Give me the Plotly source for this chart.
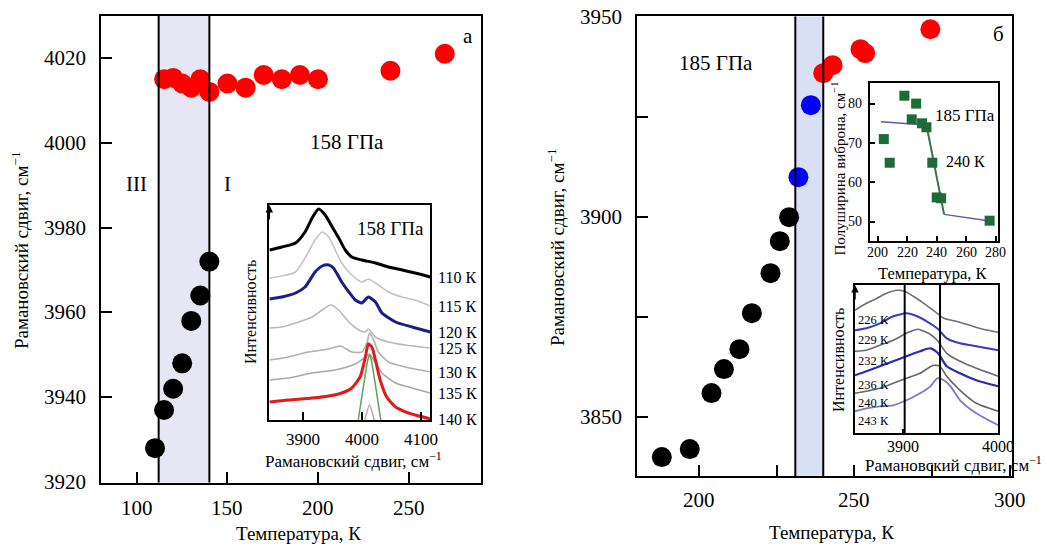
import plotly.graph_objects as go

W, H = 1047, 546
SERIF = "Liberation Serif"

# ---------------- panel (а): 158 GPa ----------------
temp_a_III = [110, 115, 120, 125, 130, 135, 140]
shift_a_III = [3928, 3937, 3942, 3948, 3958, 3964, 3972]
temp_a_I = [115, 120, 125, 130, 135, 140, 150, 160, 170, 180, 190, 200, 240, 270]
shift_a_I = [4015, 4015.3, 4014, 4013, 4015, 4012, 4014, 4013, 4016, 4015, 4016, 4015, 4017, 4021]
band_a = [112, 140]
ticks_a_x = [100, 150, 200, 250]
ticks_a_y = [3920, 3940, 3960, 3980, 4000, 4020]

# inset (а): Raman spectra, arbitrary intensity units
wn_110 = [3844, 3865, 3888, 3904, 3916, 3927, 3938, 3950, 3961, 3972, 3983, 4000, 4023, 4045, 4068, 4090, 4116]
int_110 = [170, 173, 177, 188, 202, 211, 205, 193, 182, 170, 163, 160, 157, 153, 150, 147, 143]
wn_115 = [3844, 3865, 3888, 3904, 3921, 3933, 3944, 3955, 3966, 3983, 4000, 4011, 4023, 4045, 4068, 4090, 4116]
int_115 = [142, 144, 148, 162, 180, 188, 183, 170, 157, 145, 138, 141, 137, 128, 123, 120, 114]
wn_120 = [3844, 3865, 3888, 3904, 3921, 3933, 3944, 3952, 3966, 3978, 3989, 4000, 4011, 4023, 4034, 4057, 4085, 4116]
int_120 = [121, 123, 127, 133, 148, 154, 155, 152, 138, 128, 120, 117, 123, 118, 107, 98, 93, 88]
wn_125 = [3844, 3865, 3888, 3916, 3933, 3947, 3961, 3978, 3995, 4006, 4011, 4023, 4045, 4073, 4116]
int_125 = [92, 93, 97, 103, 110, 115, 110, 98, 90, 88, 91, 83, 78, 75, 72]
wn_130 = [3844, 3876, 3910, 3944, 3964, 3983, 4000, 4009, 4013, 4020, 4028, 4045, 4073, 4116]
int_130 = [60, 63, 68, 71, 74, 68, 68, 78, 87, 80, 68, 58, 53, 48]
wn_135 = [3844, 3876, 3916, 3955, 3989, 4006, 4013, 4020, 4034, 4057, 4085, 4116]
int_135 = [40, 42, 47, 50, 56, 63, 66, 60, 47, 37, 32, 27]
wn_140 = [3844, 3876, 3916, 3944, 3966, 3983, 3997, 4006, 4011, 4017, 4023, 4031, 4042, 4057, 4079, 4116]
int_140 = [18, 20, 22, 24, 27, 32, 43, 63, 76, 73, 60, 40, 23, 13, 7, 1]
wn_fit = [3994, 4010, 4013, 4016, 4032]
int_fit = [0, 60, 65, 60, 0]
wn_fit2 = [4005, 4013, 4021]
int_fit2 = [0, 15, 0]
labels_a = ["110 К", "115 К", "120 К", "125 К", "130 К", "135 К", "140 К"]
ticks_a_inset = [3900, 4000, 4100]

# ---------------- panel (б): 185 GPa ----------------
temp_b_black = [188, 197, 204, 208, 213, 217, 223, 226, 229]
shift_b_black = [3840, 3842, 3856, 3862, 3867, 3876, 3886, 3894, 3900]
temp_b_blue = [232, 236]
shift_b_blue = [3910, 3928]
temp_b_red = [240, 243, 252, 253.5, 274.5]
shift_b_red = [3936, 3938, 3942, 3941, 3947]
band_b = [231, 240]
ticks_b_x = [200, 225, 250, 275, 300]
labeled_b_x = [200, 250, 300]
ticks_b_y = [3850, 3875, 3900, 3925, 3950]
labeled_b_y = [3850, 3900, 3950]

# inset (б, top): vibron half-width
fwhm_temp = [204, 208, 218, 223, 226, 230, 233, 237, 240, 243, 276]
fwhm_val = [71, 65, 82, 76, 80, 75, 74, 65, 56.2, 56, 50.3]
fit_low_t = [202, 233]
fit_low_w = [75.4, 74.6]
fit_drop_t = [233, 245]
fit_drop_w = [74.6, 51.9]
fit_high_t = [245, 275]
fit_high_w = [51.9, 50.3]
ticks_fwhm_x = [200, 220, 240, 260, 280]
ticks_fwhm_y = [50, 60, 70, 80]

# inset (б, bottom): Raman spectra
wn_226 = [3850, 3862, 3873, 3883, 3894, 3902, 3911, 3922, 3932, 3943, 3956, 3970, 3984, 4000]
int_226 = [123, 130, 135, 140, 143, 142, 137, 130, 123, 115, 112, 108, 104, 101]
wn_229 = [3850, 3862, 3876, 3890, 3904, 3915, 3925, 3936, 3946, 3960, 3977, 4000]
int_229 = [103, 105, 110, 117, 120, 117, 112, 105, 95, 90, 87, 83]
wn_232 = [3850, 3862, 3876, 3890, 3906, 3916, 3927, 3936, 3946, 3960, 3977, 4000]
int_232 = [82, 83, 88, 93, 101, 104, 100, 93, 80, 72, 65, 57]
wn_236 = [3850, 3862, 3876, 3890, 3904, 3918, 3929, 3937, 3946, 3960, 3977, 4000]
int_236 = [58, 62, 67, 72, 77, 82, 85, 80, 67, 60, 53, 47]
wn_240 = [3850, 3862, 3876, 3890, 3904, 3918, 3932, 3939, 3946, 3960, 3977, 4000]
int_240 = [40, 42, 45, 50, 55, 60, 68, 67, 57, 43, 30, 22]
wn_243 = [3850, 3862, 3876, 3890, 3904, 3918, 3929, 3936, 3943, 3950, 3960, 3977, 4000]
int_243 = [22, 25, 27, 28, 33, 40, 47, 55, 53, 47, 33, 20, 8]
labels_b = ["226 К", "229 К", "232 К", "236 К", "240 К", "243 К"]
marker_lines_b = [3902, 3939]
ticks_b_inset = [3900, 4000]


def px(p):
    return p / W


def py(p):
    return 1 - p / H


def axis_style(lw=2, tl=11, **kw):
    base = dict(showline=True, mirror=True, linecolor="black", linewidth=lw,
                ticks="inside", tickcolor="black", tickwidth=lw, ticklen=tl,
                showgrid=False, zeroline=False, showticklabels=False, tickmode="array")
    base.update(kw)
    return base


fig = go.Figure()

# main panel (а)
fig.add_trace(go.Scatter(x=temp_a_III, y=shift_a_III, mode="markers",
                         marker=dict(color="black", size=20), cliponaxis=False,
                         xaxis="x", yaxis="y"))
fig.add_trace(go.Scatter(x=temp_a_I, y=shift_a_I, mode="markers",
                         marker=dict(color="#ff0000", size=20), cliponaxis=False,
                         xaxis="x", yaxis="y"))

# inset (а) spectra
spectra_a = [
    (wn_110, int_110, "#000000", 3),
    (wn_115, int_115, "#c4c4c4", 1.6),
    (wn_120, int_120, "#1c1c8c", 3),
    (wn_125, int_125, "#b8b8b8", 1.6),
    (wn_130, int_130, "#b0b0b0", 1.6),
    (wn_135, int_135, "#a8a8a8", 1.6),
    (wn_140, int_140, "#e31a1a", 3),
]
for wn, inten, col, lw in spectra_a:
    fig.add_trace(go.Scatter(x=wn, y=inten, mode="lines",
                             line=dict(color=col, width=lw, shape="spline", smoothing=0.6),
                             xaxis="x2", yaxis="y2"))
fig.add_trace(go.Scatter(x=wn_fit, y=int_fit, mode="lines",
                         line=dict(color="#5aa85a", width=1.5, shape="spline", smoothing=0.4),
                         xaxis="x2", yaxis="y2"))
fig.add_trace(go.Scatter(x=wn_fit2, y=int_fit2, mode="lines",
                         line=dict(color="#c8a0a8", width=1.5, shape="spline", smoothing=0.6),
                         xaxis="x2", yaxis="y2"))

# main panel (б)
fig.add_trace(go.Scatter(x=temp_b_black, y=shift_b_black, mode="markers",
                         marker=dict(color="black", size=20), cliponaxis=False,
                         xaxis="x3", yaxis="y3"))
fig.add_trace(go.Scatter(x=temp_b_blue, y=shift_b_blue, mode="markers",
                         marker=dict(color="#0000ff", size=20), cliponaxis=False,
                         xaxis="x3", yaxis="y3"))
fig.add_trace(go.Scatter(x=temp_b_red, y=shift_b_red, mode="markers",
                         marker=dict(color="#ff0000", size=20), cliponaxis=False,
                         xaxis="x3", yaxis="y3"))

# inset (б) half-width
fig.add_trace(go.Scatter(x=fit_low_t, y=fit_low_w, mode="lines",
                         line=dict(color="#5c5cb4", width=1.5), xaxis="x4", yaxis="y4"))
fig.add_trace(go.Scatter(x=fit_high_t, y=fit_high_w, mode="lines",
                         line=dict(color="#5c5cb4", width=1.5), xaxis="x4", yaxis="y4"))
fig.add_trace(go.Scatter(x=fit_drop_t, y=fit_drop_w, mode="lines",
                         line=dict(color="#3d6e4e", width=2), xaxis="x4", yaxis="y4"))
fig.add_trace(go.Scatter(x=fwhm_temp, y=fwhm_val, mode="markers",
                         marker=dict(color="#1d6b38", size=10, symbol="square"),
                         cliponaxis=False, xaxis="x4", yaxis="y4"))

# inset (б) spectra
spectra_b = [
    (wn_226, int_226, "#707070", 1.6),
    (wn_229, int_229, "#3c3cc0", 2),
    (wn_232, int_232, "#6a6a6a", 1.6),
    (wn_236, int_236, "#2a2ab8", 2.2),
    (wn_240, int_240, "#666666", 1.6),
    (wn_243, int_243, "#7a7ad0", 1.8),
]
for wn, inten, col, lw in spectra_b:
    fig.add_trace(go.Scatter(x=wn, y=inten, mode="lines",
                             line=dict(color=col, width=lw, shape="spline", smoothing=0.6),
                             xaxis="x5", yaxis="y5"))

shapes = []
# coexistence bands with boundary lines
for xr, yr, band, col in [("x", "y domain", band_a, "#e6e6f4"),
                          ("x3", "y3 domain", band_b, "#d8e1f4")]:
    shapes.append(dict(type="rect", xref=xr, yref=yr, x0=band[0], x1=band[1], y0=0, y1=1,
                       fillcolor=col, line=dict(width=0), layer="below"))
    for b in band:
        shapes.append(dict(type="line", xref=xr, yref=yr, x0=b, x1=b, y0=0, y1=1,
                           line=dict(color="black", width=2)))
for b in marker_lines_b:
    shapes.append(dict(type="line", xref="x5", yref="y5 domain", x0=b, x1=b, y0=0, y1=1,
                       line=dict(color="black", width=2)))

ann = []


def text(x, y, s, size, xref="paper", yref="paper", angle=0, xanchor="center", **kw):
    ann.append(dict(x=x, y=y, xref=xref, yref=yref, text=s, showarrow=False,
                    textangle=angle, xanchor=xanchor, yanchor="middle",
                    font=dict(family=SERIF, size=size, color="black"), **kw))


def xtick_labels(xa, ya, vals, size, gap):
    for v in vals:
        text(v, 0, str(v), size, xref=xa, yref=ya + " domain", yshift=-gap)


def ytick_labels(xa, ya, vals, size, gap):
    for v in vals:
        text(0, v, str(v), size, xref=xa + " domain", yref=ya, xanchor="right", xshift=-gap)


xtick_labels("x", "y", ticks_a_x, 21, 25.5)
ytick_labels("x", "y", ticks_a_y, 21, 13)
xtick_labels("x2", "y2", ticks_a_inset, 17, 19.5)
xtick_labels("x3", "y3", labeled_b_x, 21, 24)
ytick_labels("x3", "y3", labeled_b_y, 21, 13)
xtick_labels("x4", "y4", ticks_fwhm_x, 14, 12)
ytick_labels("x4", "y4", ticks_fwhm_y, 14, 6)
xtick_labels("x5", "y5", ticks_b_inset, 16, 13.5)

raman_title = "Рамановский сдвиг, см<sup>−1</sup>"

# panel (а) texts
text(px(20), py(250), raman_title, 19, angle=-90)
text(px(298), py(533), "Температура, К", 19)
text(100, 3990.4, "III", 21, xref="x", yref="y")
text(150, 3990.4, "I", 21, xref="x", yref="y")
text(216, 4000.2, "158 ГПа", 21, xref="x", yref="y")
text(282.6, 4025.1, "а", 21, xref="x", yref="y")
# inset (а) texts
text(4048, 191.7, "158 ГПа", 19, xref="x2", yref="y2")
text(px(250), py(312), "Интенсивность", 16, angle=-90)
text(px(353), py(460), raman_title, 17)
curves_a = [int_110, int_115, int_120, int_125, int_130, int_135, int_140]
for lab, inten in zip(labels_a, curves_a):
    text(1, inten[-1], lab, 16, xref="x2 domain", yref="y2", xanchor="left", xshift=6)

# panel (б) texts
text(px(556), py(247), raman_title, 19, angle=-90)
text(px(831), py(532), "Температура, К", 19)
text(205.6, 3938.5, "185 ГПа", 21, xref="x3", yref="y3")
text(296.3, 3945.9, "б", 21, xref="x3", yref="y3")
# inset (б, top) texts
text(259.4, 77.1, "185 ГПа", 17, xref="x4", yref="y4")
text(259.4, 65.4, "240 К", 16, xref="x4", yref="y4")
text(px(838.5), py(169), "Полуширина виброна, см<sup>−1</sup>", 15, angle=-90)
text(px(933), py(273), "Температура, К", 16.5)
# inset (б, bottom) texts
text(px(838), py(360), "Интенсивность", 16, angle=-90)
text(px(863), py(464), raman_title, 17, xanchor="left")
curves_b = [int_226, int_229, int_232, int_236, int_240, int_243]
for lab, inten in zip(labels_b, curves_b):
    text(0, inten[0], lab, 12.5, xref="x5 domain", yref="y5", xanchor="left",
         xshift=1, yshift=-10)

# arrows on the intensity axes
for xr, yr in [("x2 domain", "y2 domain"), ("x5 domain", "y5 domain")]:
    ann.append(dict(x=0, y=1, xref=xr, yref=yr, ax=0, ay=16, axref="pixel", ayref="pixel",
                    showarrow=True, arrowhead=2, arrowsize=1, arrowwidth=1.5,
                    arrowcolor="black", text=""))

fig.update_layout(
    width=W, height=H, margin=dict(l=0, r=0, t=0, b=0),
    paper_bgcolor="white", plot_bgcolor="white", showlegend=False,
    shapes=shapes, annotations=ann,
    xaxis=axis_style(domain=[px(100.7), px(481)], range=[80, 290], anchor="y",
                     tickvals=ticks_a_x),
    yaxis=axis_style(domain=[py(482.5), py(15.6)], range=[3919.9, 4030], anchor="x",
                     tickvals=ticks_a_y),
    xaxis2=axis_style(lw=1.5, tl=8, domain=[px(269.3), px(430.3)],
                      range=[3843.6, 4115.7], anchor="y2", tickvals=ticks_a_inset),
    yaxis2=axis_style(lw=1.5, domain=[py(420), py(205)], range=[0, 215], anchor="x2",
                      ticks=""),
    xaxis3=axis_style(domain=[px(637), px(1012)], range=[180, 300.8], anchor="y3",
                      tickvals=ticks_b_x),
    yaxis3=axis_style(domain=[py(476.3), py(16.4)], range=[3835.2, 3950.2], anchor="x3",
                      tickvals=ticks_b_y),
    xaxis4=axis_style(lw=1.5, tl=5, domain=[px(870), px(998.3)],
                      range=[194.6, 281.9], anchor="y4", tickvals=ticks_fwhm_x),
    yaxis4=axis_style(lw=1.5, tl=5, domain=[py(240.8), py(82.7)],
                      range=[45.2, 85.3], anchor="x4", tickvals=ticks_fwhm_y),
    xaxis5=axis_style(lw=1.5, tl=5, domain=[px(855), px(998.3)],
                      range=[3850, 4000], anchor="y5", tickvals=ticks_b_inset),
    yaxis5=axis_style(lw=1.5, domain=[py(433.3), py(285)], range=[0, 148.3], anchor="x5",
                      ticks=""),
)

fig.write_html("out.html", config={"displayModeBar": False})
